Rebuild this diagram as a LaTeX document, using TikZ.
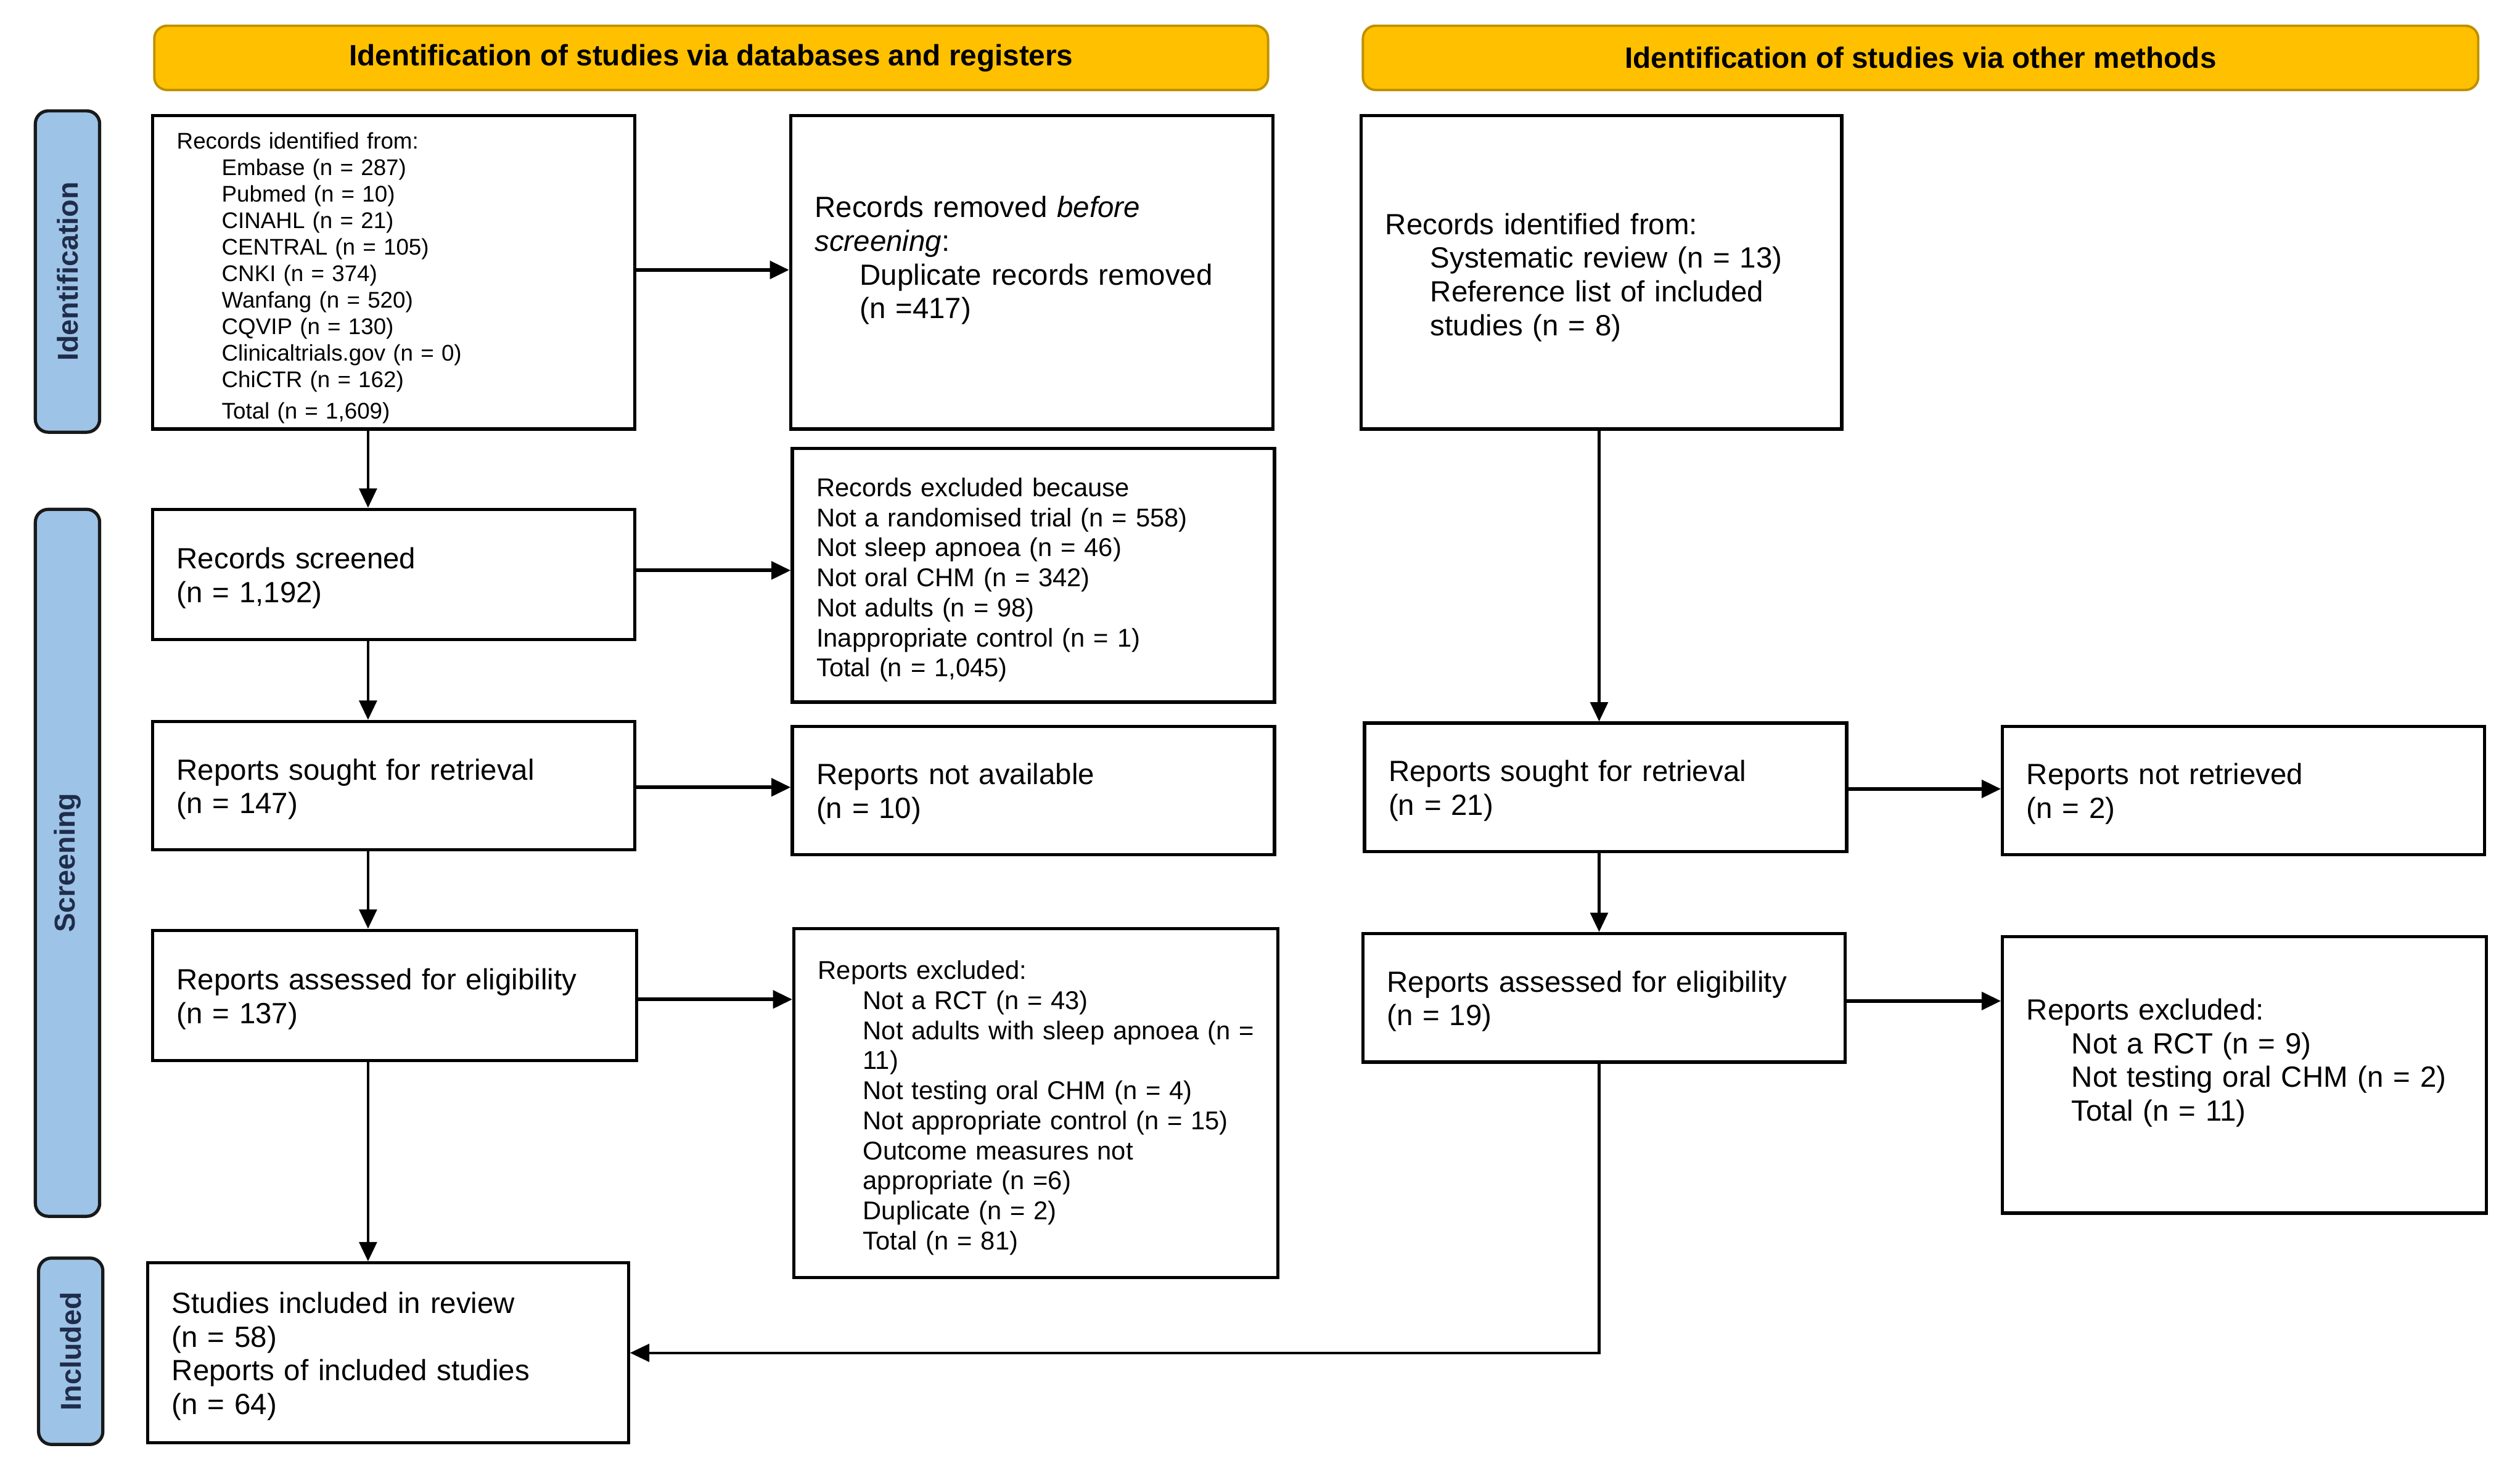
\documentclass[tikz,border=0pt]{standalone}
\usepackage{fontspec}
\setmainfont{Liberation Sans}
\usetikzlibrary{arrows.meta,calc}
\definecolor{gold}{HTML}{FFC000}
\definecolor{golddark}{HTML}{BF9000}
\definecolor{sideblue}{HTML}{9DC3E6}
\definecolor{sidetext}{HTML}{1F2D4A}
\begin{document}
\begin{tikzpicture}[x=1pt,y=-1pt,
  box/.style={draw=black, line width=2pt, fill=white, inner xsep=15pt, inner ysep=0pt,
    align=left, font=\fontsize{18.2}{21}\selectfont,
    execute at begin node={\rule{0pt}{17.5pt}}},
  smallbox/.style={box, font=\fontsize{14.1}{16.5}\selectfont,
    execute at begin node={}},
  midbox/.style={box, font=\fontsize{16}{18.7}\selectfont,
    execute at begin node={\rule{0pt}{16.5pt}}},
  hdr/.style={draw=golddark, line width=1.5pt, fill=gold, rounded corners=8pt,
    font=\fontsize{18.3}{21}\selectfont\bfseries, text=black},
  side/.style={draw=black!90, line width=2pt, fill=sideblue, rounded corners=8pt,
    font=\fontsize{17.9}{20}\selectfont\bfseries, text=sidetext, rotate=90},
  harr/.style={line width=2.2pt, -{Triangle[length=12pt,width=11pt]}},
  varr/.style={line width=1.6pt, -{Triangle[length=12pt,width=11pt]}}
]
\useasboundingbox (0,0) rectangle (1568,910.8);

% headers
\node[hdr, minimum width=693pt, minimum height=40pt] (H1) at (442.5,36)
  {Identification of studies via databases and registers};
\node[hdr, minimum width=694pt, minimum height=40pt] (H2) at (1195,36)
  {Identification of studies via other methods};

% side labels
\node[side, minimum width=200pt, minimum height=40pt] (S1) at (42,169) {Identification};
\node[side, minimum width=440pt, minimum height=40pt] (S2) at (42,537) {Screening};
\node[side, minimum width=116pt, minimum height=40pt] (S3) at (44,841) {Included};

% left column
\node[smallbox, minimum width=300pt, minimum height=195pt, text width=270pt] (A) at (245,169.5)
  {\rule{0pt}{15pt}Records identified from:\\
   \hspace*{28pt}Embase (n = 287)\\
   \hspace*{28pt}Pubmed (n = 10)\\
   \hspace*{28pt}CINAHL (n = 21)\\
   \hspace*{28pt}CENTRAL (n = 105)\\
   \hspace*{28pt}CNKI (n = 374)\\
   \hspace*{28pt}Wanfang (n = 520)\\
   \hspace*{28pt}CQVIP (n = 130)\\
   \hspace*{28pt}Clinicaltrials.gov (n = 0)\\
   \hspace*{28pt}ChiCTR (n = 162)\\[3pt]
   \hspace*{28pt}Total (n = 1,609)};

\node[box, minimum width=300pt, minimum height=195pt, text width=270pt] (B) at (642,169.5)
  {Records removed \textit{before}\\
   \textit{screening}:\\
   \hspace*{28pt}Duplicate records removed\\
   \hspace*{28pt}(n =417)\\[2pt]
   \mbox{}};

\node[box, minimum width=300pt, minimum height=81pt, text width=270pt] (D) at (245,357.5)
  {Records screened\\(n = 1,192)};

\node[midbox, minimum width=300pt, minimum height=158pt, text width=270pt] (E) at (643,358)
  {Records excluded because\\
   Not a randomised trial (n = 558)\\
   Not sleep apnoea (n = 46)\\
   Not oral CHM (n = 342)\\
   Not adults (n = 98)\\
   Inappropriate control (n = 1)\\
   Total (n = 1,045)};

\node[box, minimum width=300pt, minimum height=80pt, text width=270pt] (F) at (245,489)
  {Reports sought for retrieval\\(n = 147)};

\node[box, minimum width=300pt, minimum height=80pt, text width=270pt] (G) at (643,492)
  {Reports not available\\(n = 10)};

\node[box, minimum width=301pt, minimum height=81pt, text width=271pt] (J) at (245.5,619.5)
  {Reports assessed for eligibility\\(n = 137)};

\node[midbox, minimum width=301pt, minimum height=217pt, text width=271pt] (K) at (644.5,686.5)
  {Reports excluded:\\
   \hspace*{28pt}Not a RCT (n = 43)\\
   \hspace*{28pt}\mbox{Not adults with sleep apnoea (n =}\\
   \hspace*{28pt}11)\\
   \hspace*{28pt}Not testing oral CHM (n = 4)\\
   \hspace*{28pt}Not appropriate control (n = 15)\\
   \hspace*{28pt}Outcome measures not\\
   \hspace*{28pt}appropriate (n =6)\\
   \hspace*{28pt}Duplicate (n = 2)\\
   \hspace*{28pt}Total (n = 81)};

\node[box, minimum width=299pt, minimum height=112pt, text width=269pt] (N) at (241.5,842)
  {Studies included in review\\(n = 58)\\Reports of included studies\\(n = 64)};

% right column
\node[box, minimum width=299pt, minimum height=195pt, text width=269pt] (C) at (996.5,169.5)
  {\rule{0pt}{19.5pt}Records identified from:\\
   \hspace*{28pt}Systematic review (n = 13)\\
   \hspace*{28pt}Reference list of included\\
   \hspace*{28pt}studies (n = 8)};

\node[box, minimum width=300pt, minimum height=80pt, text width=270pt] (HH) at (999,490)
  {Reports sought for retrieval\\(n = 21)};

\node[box, minimum width=300pt, minimum height=80pt, text width=270pt] (I) at (1396,492)
  {Reports not retrieved\\(n = 2)};

\node[box, minimum width=300pt, minimum height=80pt, text width=270pt] (L) at (998,621)
  {Reports assessed for eligibility\\(n = 19)};

\node[box, minimum width=301pt, minimum height=172pt, text width=271pt] (M) at (1396.5,669)
  {Reports excluded:\\
   \hspace*{28pt}Not a RCT (n = 9)\\
   \hspace*{28pt}Not testing oral CHM (n = 2)\\
   \hspace*{28pt}Total (n = 11)\\[2pt]
   \mbox{}};

% connector x positions
\coordinate (lx) at (229,0);
\coordinate (rx) at (995,0);

% vertical arrows
\draw[varr] (A.south -| lx) -- (D.north -| lx);
\draw[varr] (D.south -| lx) -- (F.north -| lx);
\draw[varr] (F.south -| lx) -- (J.north -| lx);
\draw[varr] (J.south -| lx) -- (N.north -| lx);
\draw[varr] (C.south -| rx) -- (HH.north -| rx);
\draw[varr] (HH.south -| rx) -- (L.north -| rx);
\draw[varr] (L.south -| rx) |- (N.east);

% horizontal arrows
\draw[harr] ([yshift=1.5pt]A.east) -- ([yshift=1.5pt]A.east -| B.west);
\draw[harr] ([yshift=2.5pt]D.east) -- ([yshift=2.5pt]D.east -| E.west);
\draw[harr] ([yshift=-1pt]F.east) -- ([yshift=-1pt]F.east -| G.west);
\draw[harr] ([yshift=-2.5pt]J.east) -- ([yshift=-2.5pt]J.east -| K.west);
\draw[harr] ([yshift=-1pt]HH.east) -- ([yshift=-1pt]HH.east -| I.west);
\draw[harr] ([yshift=-2pt]L.east) -- ([yshift=-2pt]L.east -| M.west);
\end{tikzpicture}
\end{document}
